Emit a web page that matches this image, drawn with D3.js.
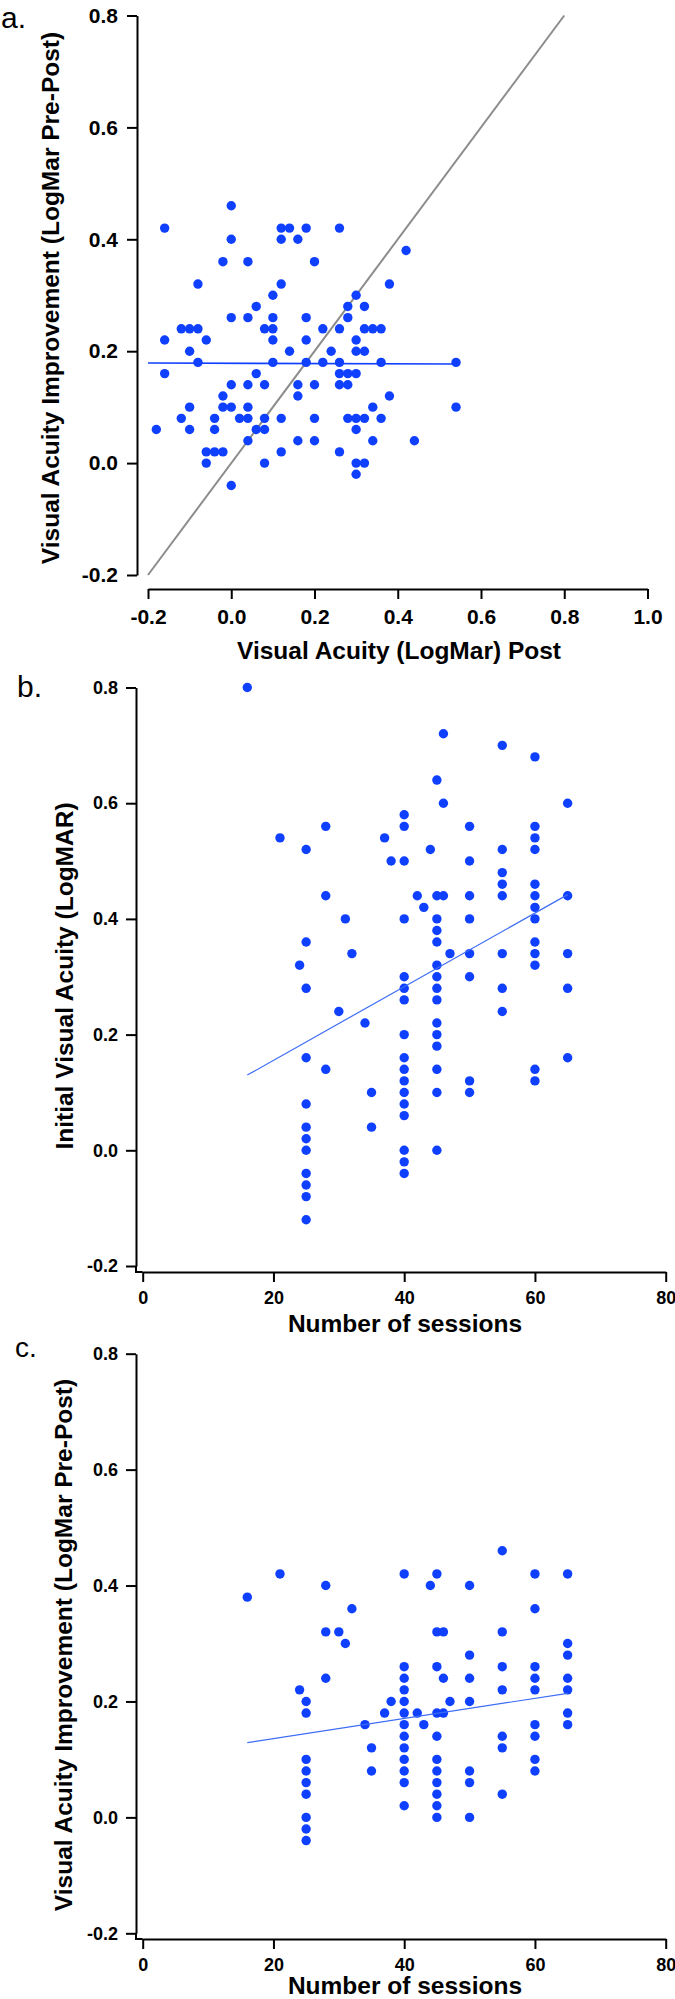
<!DOCTYPE html>
<html>
<head>
<meta charset="utf-8">
<script src="https://cdn.jsdelivr.net/npm/d3@7"></script>
<style>
  body { margin: 0; background: #fff; }
  svg { display: block; font-family: "Liberation Sans", Arial, Helvetica, sans-serif; }
</style>
</head>
<body>
<figure id="chart" style="margin:0"></figure>
<script>
// ---- data ----
// a. post acuity (x) and the improvements measured at each x
const postA = [-0.18, -0.16, -0.12, -0.10, -0.08, -0.06, -0.04, -0.02, 0.00, 0.02, 0.04, 0.06, 0.08, 0.10, 0.12, 0.14,
  0.16, 0.18, 0.20, 0.22, 0.24, 0.26, 0.28, 0.30, 0.32, 0.34, 0.36, 0.38, 0.42, 0.44, 0.54];
const improveA = [
  [0.06], [0.42, 0.22, 0.16], [0.24, 0.08], [0.24, 0.20, 0.10, 0.06], [0.32, 0.24, 0.18], [0.22, 0.02, 0.00],
  [0.08, 0.06, 0.02], [0.36, 0.12, 0.10, 0.02], [0.46, 0.40, 0.26, 0.14, 0.10, -0.04], [0.08],
  [0.36, 0.26, 0.14, 0.10, 0.08, 0.04], [0.28, 0.16, 0.06], [0.24, 0.14, 0.08, 0.06, 0.00],
  [0.30, 0.26, 0.24, 0.22, 0.18], [0.42, 0.40, 0.32, 0.08, 0.02], [0.42, 0.20], [0.40, 0.14, 0.12, 0.04],
  [0.42, 0.26, 0.22, 0.18], [0.36, 0.14, 0.08, 0.04], [0.24, 0.18], [0.20], [0.42, 0.24, 0.18, 0.16, 0.14, 0.02],
  [0.28, 0.26, 0.16, 0.14, 0.08], [0.30, 0.22, 0.20, 0.16, 0.08, 0.06, 0.00, -0.02], [0.28, 0.24, 0.20, 0.08, 0.00],
  [0.24, 0.10, 0.04], [0.24, 0.18, 0.08], [0.32, 0.12], [0.38], [0.04], [0.18, 0.10]
];
const fitA = [[-0.2, 0.179], [0.54, 0.177]];
const identityA = [[-0.2, -0.2], [0.8, 0.8]];

// b. initial acuity by number of sessions
const sessionsB = [16, 21, 24, 25, 28, 30, 31, 32, 34, 35, 37, 38, 40, 42, 43, 44, 45, 46, 47, 50, 55, 60, 65];
const initialB = [
  [0.80], [0.54], [0.32],
  [0.52, 0.36, 0.28, 0.16, 0.08, 0.04, 0.02, 0.00, -0.04, -0.06, -0.08, -0.12],
  [0.56, 0.44, 0.14], [0.24], [0.40], [0.34], [0.22], [0.10, 0.04], [0.54], [0.50],
  [0.58, 0.56, 0.50, 0.40, 0.30, 0.28, 0.26, 0.20, 0.16, 0.14, 0.12, 0.10, 0.08, 0.06, 0.00, -0.02, -0.04],
  [0.44], [0.42], [0.52],
  [0.64, 0.44, 0.40, 0.38, 0.36, 0.32, 0.30, 0.28, 0.26, 0.22, 0.20, 0.18, 0.14, 0.10, 0.00],
  [0.72, 0.60, 0.44], [0.34],
  [0.56, 0.50, 0.44, 0.40, 0.34, 0.30, 0.12, 0.10],
  [0.70, 0.52, 0.48, 0.46, 0.44, 0.34, 0.28, 0.24],
  [0.68, 0.56, 0.54, 0.52, 0.46, 0.44, 0.42, 0.40, 0.36, 0.34, 0.32, 0.14, 0.12],
  [0.60, 0.44, 0.34, 0.28, 0.16]
];
const fitB = [[16, 0.130], [65, 0.442]];

// c. improvement by number of sessions
const sessionsC = sessionsB;
const improveC = [
  [0.38], [0.42], [0.22],
  [0.20, 0.18, 0.10, 0.08, 0.06, 0.04, 0.00, -0.02, -0.04],
  [0.40, 0.32, 0.24], [0.32], [0.30], [0.36], [0.16], [0.12, 0.08], [0.18], [0.20],
  [0.42, 0.26, 0.24, 0.22, 0.20, 0.18, 0.16, 0.14, 0.12, 0.10, 0.08, 0.06, 0.02],
  [0.18], [0.16], [0.40],
  [0.42, 0.32, 0.26, 0.18, 0.14, 0.10, 0.08, 0.06, 0.04, 0.02, 0.00],
  [0.32, 0.24, 0.18], [0.20],
  [0.40, 0.28, 0.24, 0.20, 0.08, 0.06, 0.00],
  [0.46, 0.32, 0.26, 0.22, 0.14, 0.12, 0.04],
  [0.42, 0.36, 0.26, 0.24, 0.22, 0.16, 0.14, 0.10, 0.08],
  [0.42, 0.30, 0.28, 0.24, 0.22, 0.18, 0.16]
];
const fitC = [[16, 0.129], [65, 0.214]];

// tick values
const yTicks = [-0.2, 0.0, 0.2, 0.4, 0.6, 0.8];
const xTicksA = [-0.2, 0.0, 0.2, 0.4, 0.6, 0.8, 1.0];
const xTicksSessions = [0, 20, 40, 60, 80];

const dotColor = "#1040ff";

const svg = d3.select("figure#chart")
  .append("svg")
  .attr("width", 675)
  .attr("height", 1999);

// flatten grouped columns into points
function toPoints(xs, ys) {
  const pts = [];
  xs.forEach((x, i) => ys[i].forEach(y => pts.push([x, y])));
  return pts;
}

function drawPanel(p) {
  const g = svg.append("g");
  const x = d3.scaleLinear().domain(p.xDomain).range(p.xRange);
  const y = d3.scaleLinear().domain([-0.2, 0.8]).range(p.yRange);

  // Y-axis
  const yAxis = g.append("g")
    .attr("transform", "translate(" + p.yAxisX + ",0)")
    .call(d3.axisLeft(y).tickValues(yTicks).tickFormat(d => d.toFixed(1))
      .tickSize(10).tickSizeOuter(0).tickPadding(p.yPad));

  // X-axis
  const xAxis = g.append("g")
    .attr("transform", "translate(0," + p.xAxisY + ")")
    .call(d3.axisBottom(x).tickValues(p.xTicks).tickFormat(p.xFormat)
      .tickSize(10).tickSizeOuter(0).tickPadding(p.xPad));

  [yAxis, xAxis].forEach(a => {
    a.selectAll("text")
      .style("font-size", p.tickFont + "px")
      .style("font-weight", "bold")
      .attr("fill", "#000");
    a.selectAll("line, path").attr("stroke", "#000").attr("stroke-width", 2);
  });

  // b and c: axes meet in a corner
  if (p.corner) {
    g.append("line")
      .attr("x1", p.yAxisX).attr("x2", p.yAxisX)
      .attr("y1", y(-0.2)).attr("y2", p.xAxisY + 1)
      .attr("stroke", "#000").attr("stroke-width", 2);
    g.append("line")
      .attr("x1", p.yAxisX - 1).attr("x2", x(p.xDomain[0]))
      .attr("y1", p.xAxisY).attr("y2", p.xAxisY)
      .attr("stroke", "#000").attr("stroke-width", 2);
  }

  const line = d3.line().x(d => x(d[0])).y(d => y(d[1]));

  if (p.identity) {
    g.append("path")
      .attr("d", line(p.identity))
      .attr("fill", "none")
      .attr("stroke", "#8c8c8c")
      .attr("stroke-width", 2);
  }

  // points
  g.selectAll("circle")
    .data(p.points)
    .enter()
    .append("circle")
    .attr("cx", d => x(d[0]))
    .attr("cy", d => y(d[1]))
    .attr("r", 4.7)
    .attr("fill", dotColor);

  // regression line
  g.append("path")
    .attr("d", line(p.fit))
    .attr("fill", "none")
    .attr("stroke", p.fitColor)
    .attr("stroke-width", p.fitWidth);

  // axis titles
  g.append("text")
    .attr("x", p.xTitle[0]).attr("y", p.xTitle[1])
    .attr("text-anchor", "middle")
    .style("font-size", "24.5px").style("font-weight", "bold")
    .text(p.xLabel);

  g.append("text")
    .attr("transform", "translate(" + p.yTitle[0] + "," + p.yTitle[1] + ")rotate(-90)")
    .attr("text-anchor", "middle")
    .style("font-size", "24.5px").style("font-weight", "bold")
    .text(p.yLabel);

  // panel letter
  g.append("text")
    .attr("x", p.letterPos[0]).attr("y", p.letterPos[1])
    .style("font-size", p.letterSize + "px")
    .text(p.letter);
}

drawPanel({
  letter: "a.", letterPos: [1, 28], letterSize: 30,
  xDomain: [-0.2, 1.0], xRange: [148, 647.5], yRange: [575, 15.5],
  yAxisX: 137, xAxisY: 589, yPad: 9, xPad: 10, tickFont: 21,
  xTicks: xTicksA, xFormat: d => d.toFixed(1),
  points: toPoints(postA, improveA), fit: fitA, fitColor: "#1040ff", fitWidth: 1.6,
  identity: identityA,
  xLabel: "Visual Acuity (LogMar) Post", xTitle: [399, 659],
  yLabel: "Visual Acuity Improvement (LogMar Pre-Post)", yTitle: [59, 298]
});

drawPanel({
  letter: "b.", letterPos: [17, 697], letterSize: 30,
  xDomain: [0, 80], xRange: [142.7, 665.7], yRange: [1266, 687.5],
  yAxisX: 136, xAxisY: 1272, yPad: 8, xPad: 9, tickFont: 18, corner: true,
  xTicks: xTicksSessions, xFormat: d => d,
  points: toPoints(sessionsB, initialB), fit: fitB, fitColor: "#3d6cf5", fitWidth: 1.2,
  xLabel: "Number of sessions", xTitle: [405, 1332],
  yLabel: "Initial Visual Acuity (LogMAR)", yTitle: [73, 976]
});

drawPanel({
  letter: "c.", letterPos: [15, 1357], letterSize: 28,
  xDomain: [0, 80], xRange: [142.7, 665.7], yRange: [1933.3, 1353.7],
  yAxisX: 136, xAxisY: 1939, yPad: 8, xPad: 9, tickFont: 18, corner: true,
  xTicks: xTicksSessions, xFormat: d => d,
  points: toPoints(sessionsC, improveC), fit: fitC, fitColor: "#3d6cf5", fitWidth: 1.2,
  xLabel: "Number of sessions", xTitle: [405, 1994],
  yLabel: "Visual Acuity Improvement (LogMar Pre-Post)", yTitle: [72, 1645]
});
</script>
</body>
</html>
